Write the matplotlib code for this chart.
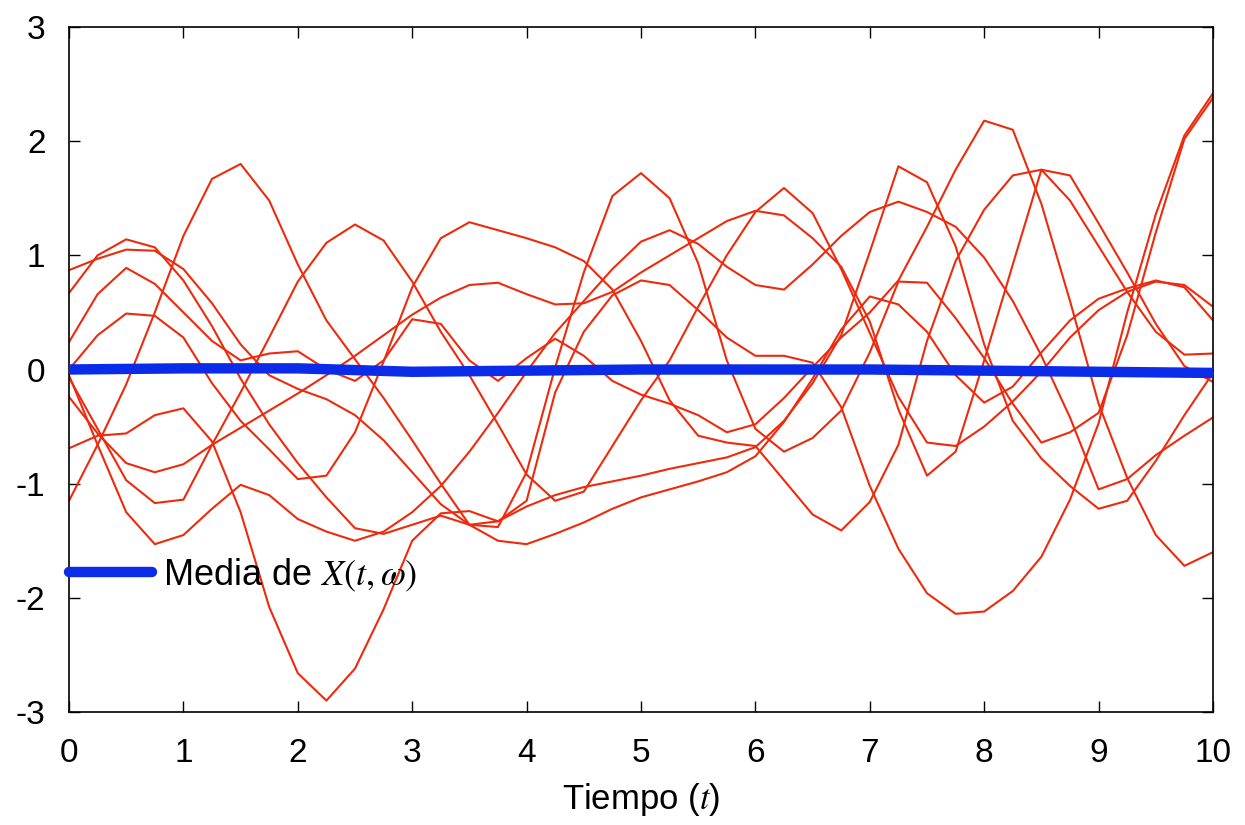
import matplotlib
matplotlib.use("Agg")
import matplotlib.pyplot as plt

plt.rcParams['font.family'] = ['Liberation Sans', 'DejaVu Sans']
plt.rcParams['mathtext.fontset'] = 'stix'
plt.rcParams['axes.unicode_minus'] = False

# sample times
t = [0.0, 0.25, 0.5, 0.75, 1.0, 1.25, 1.5, 1.75, 2.0, 2.25,
     2.5, 2.75, 3.0, 3.25, 3.5, 3.75, 4.0, 4.25, 4.5, 4.75,
     5.0, 5.25, 5.5, 5.75, 6.0, 6.25, 6.5, 6.75, 7.0, 7.25,
     7.5, 7.75, 8.0, 8.25, 8.5, 8.75, 9.0, 9.25, 9.5, 9.75, 10.0]

# sample paths X(t, omega_k)
path_a = [0.87, 0.97, 1.05, 1.04, 0.88, 0.58, 0.22, -0.05, -0.17, -0.26,
          -0.40, -0.62, -0.90, -1.18, -1.36, -1.33, -1.20, -1.10, -1.03, -0.98,
          -0.93, -0.87, -0.82, -0.77, -0.68, -0.45, -0.12, 0.30, 1.03, 1.78,
          1.64, 1.08, 0.22, -0.45, -0.78, -1.02, -1.22, -1.15, -0.80, -0.40, -0.03]
path_b = [0.67, 1.00, 1.14, 1.07, 0.78, 0.38, -0.08, -0.48, -0.82, -1.12,
          -1.39, -1.44, -1.36, -1.28, -1.36, -1.50, -1.53, -1.44, -1.34, -1.22,
          -1.12, -1.05, -0.98, -0.90, -0.76, -0.46, -0.08, 0.35, 0.64, 0.57,
          0.33, -0.05, -0.29, -0.15, 0.15, 0.43, 0.62, 0.71, 0.78, 0.72, 0.43]
path_c = [0.24, 0.66, 0.89, 0.75, 0.50, 0.25, 0.08, 0.14, 0.16, 0.00,
          -0.10, 0.08, 0.44, 0.40, 0.08, -0.10, 0.10, 0.27, 0.12, -0.10,
          -0.22, -0.30, -0.40, -0.55, -0.48, -0.25, 0.02, 0.28, 0.50, 0.78,
          1.25, 1.75, 2.18, 2.10, 1.45, 0.60, -0.30, -0.95, -1.45, -1.72, -1.60]
path_d = [-0.69, -0.58, -0.56, -0.40, -0.34, -0.63, -1.25, -2.08, -2.66, -2.90,
          -2.62, -2.10, -1.50, -1.26, -1.24, -1.33, -1.15, -0.20, 0.33, 0.65,
          0.78, 0.74, 0.52, 0.28, 0.12, 0.12, 0.06, -0.33, -1.02, -1.57,
          -1.96, -2.14, -2.12, -1.94, -1.64, -1.14, -0.47, 0.50, 1.36, 2.05, 2.42]
path_e = [0.00, 0.30, 0.49, 0.47, 0.28, -0.12, -0.45, -0.70, -0.96, -0.93,
          -0.55, 0.07, 0.72, 1.15, 1.29, 1.22, 1.15, 1.07, 0.95, 0.70,
          0.25, -0.27, -0.58, -0.64, -0.67, -0.97, -1.27, -1.41, -1.16, -0.66,
          0.25, 0.95, 1.40, 1.70, 1.75, 1.48, 1.08, 0.68, 0.33, 0.13, 0.14]
path_f = [-0.05, -0.66, -1.25, -1.53, -1.45, -1.22, -1.01, -1.10, -1.31, -1.42,
          -1.50, -1.42, -1.25, -1.02, -0.72, -0.38, -0.02, 0.32, 0.60, 0.88,
          1.12, 1.22, 1.10, 0.90, 0.74, 0.70, 0.92, 1.17, 1.38, 1.47,
          1.38, 1.25, 0.98, 0.60, 0.12, -0.42, -1.05, -0.96, -0.75, -0.58, -0.42]
path_g = [-0.07, -0.52, -0.97, -1.17, -1.14, -0.66, -0.20, 0.28, 0.77, 1.11,
          1.27, 1.13, 0.77, 0.33, -0.05, -0.48, -0.92, -1.15, -1.07, -0.67,
          -0.27, 0.08, 0.55, 1.00, 1.38, 1.59, 1.37, 0.88, 0.32, -0.24,
          -0.64, -0.67, -0.50, -0.28, -0.02, 0.28, 0.52, 0.68, 0.77, 0.74, 0.55]
path_h = [-0.24, -0.56, -0.82, -0.90, -0.83, -0.66, -0.51, -0.36, -0.21, -0.05,
          0.12, 0.30, 0.48, 0.63, 0.74, 0.76, 0.66, 0.57, 0.58, 0.68,
          0.85, 1.00, 1.15, 1.30, 1.39, 1.35, 1.15, 0.90, 0.42, -0.35,
          -0.93, -0.72, 0.08, 0.92, 1.75, 1.70, 1.28, 0.85, 0.40, 0.03, -0.11]
path_p = [-1.15, -0.66, -0.13, 0.50, 1.17, 1.67, 1.80, 1.48, 0.92, 0.43,
          0.09, -0.25, -0.62, -1.00, -1.36, -1.38, -0.90, 0.02, 0.85, 1.52,
          1.72, 1.50, 0.93, 0.08, -0.52, -0.72, -0.60, -0.36, 0.15, 0.77,
          0.76, 0.45, 0.10, -0.30, -0.64, -0.55, -0.38, 0.30, 1.20, 2.02, 2.38]

paths = [path_a, path_b, path_c, path_d, path_e, path_f, path_g, path_h, path_p]

# ensemble mean
mean_t = [0, 1, 2, 3, 4, 5, 6, 7, 8, 9, 10]
mean_v = [0.0, 0.01, 0.01, -0.02, -0.01, 0.0, 0.0, 0.0, -0.01, -0.02, -0.03]

x_ticks = [0, 1, 2, 3, 4, 5, 6, 7, 8, 9, 10]
y_ticks = [-3, -2, -1, 0, 1, 2, 3]

fig = plt.figure(figsize=(12.45, 8.25), dpi=100)
ax = fig.add_axes([69/1245, 1-712/825, (1213-69)/1245, (712-27)/825])

red = '#ee2a0c'
for v in paths:
    ax.plot(t, v, color=red, lw=1.5, zorder=2, solid_joinstyle='round')

ax.plot(mean_t, mean_v, color='#0a2be8', lw=7.5, solid_capstyle='round', zorder=3,
        label=r'Media de $X(t,\omega)$')

ax.set_xlim(0, 10)
ax.set_ylim(-3, 3)
ax.set_xticks(x_ticks)
ax.set_yticks(y_ticks)
ax.tick_params(direction='in', length=8, width=1, top=True, right=True,
               labelsize=24)
ax.tick_params(axis='x', pad=19)
ax.tick_params(axis='y', pad=17)
for s in ax.spines.values():
    s.set_linewidth(1.2)
ax.set_xlabel(r'Tiempo ($t$)', fontsize=25, labelpad=8)

leg = ax.legend(loc='center left', bbox_to_anchor=(0.0, 0.2), frameon=False,
                fontsize=26, handlelength=2.3, handletextpad=0.3,
                borderpad=0, borderaxespad=0)

fig.savefig('out.png', dpi=100)
